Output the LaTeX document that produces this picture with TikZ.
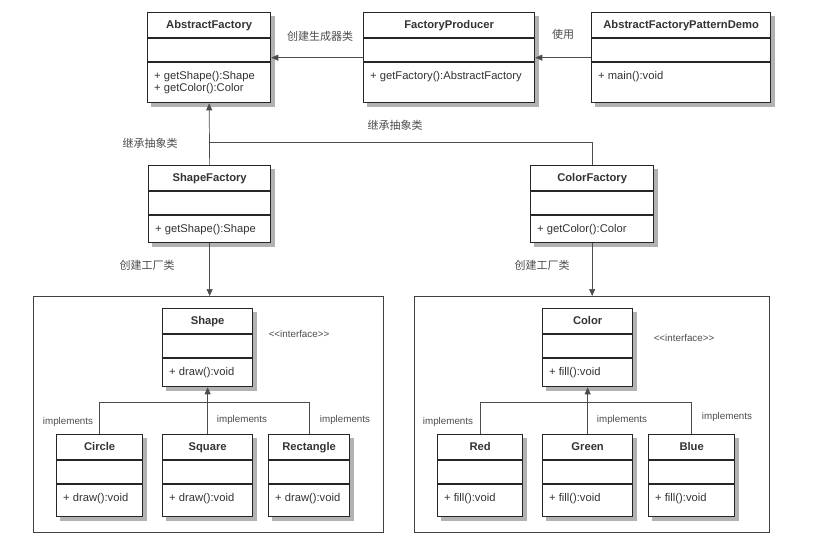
\documentclass[tikz,border=0pt]{standalone}
\usepackage{fontspec}
\setmainfont{Liberation Sans}
\newfontfamily\cjk{Noto Sans CJK SC}
\usetikzlibrary{arrows.meta}
\pgfdeclarelayer{paper}
\pgfdeclarelayer{shade}
\pgfsetlayers{paper,shade,main}

\tikzset{
  umlbox/.style={draw=black!85,line width=1.3pt,fill=white,inner sep=0pt,anchor=north west},
  umlshadow/.style={fill=black!30,draw=none},
  umlrule/.style={draw=black!85,line width=1.3pt},
  umlname/.style={font=\fontsize{11.2}{13}\selectfont\bfseries,text=black!80,inner sep=0pt,
    text height=8pt,text depth=2.5pt},
  umlops/.style={font=\fontsize{11.2}{13}\selectfont,text=black!80,anchor=west,inner sep=0pt,
    text height=8pt,text depth=2.5pt},
  pkgbox/.style={draw=black!75,line width=0.8pt,anchor=north west,inner sep=0pt},
  conn/.style={draw=black!70,line width=0.7pt},
  arr/.style={conn,-{Triangle[length=7pt,width=6pt]}},
  cnlabel/.style={font=\cjk\fontsize{11}{13}\selectfont,text=black!70,inner sep=0pt},
  impl/.style={font=\fontsize{9.8}{11}\selectfont,text=black!70,inner sep=0pt},
}

% name, top left, width, height, title, operations
\newcommand{\umlclass}[6]{%
  \node[umlbox,minimum width=#3pt,minimum height=#4pt] (#1) at (#2) {};
  \begin{pgfonlayer}{shade}
    \fill[umlshadow] ([shift={(4pt,-4pt)}]#1.north west) rectangle ([shift={(4pt,-4pt)}]#1.south east);
  \end{pgfonlayer}
  \draw[umlrule] ([yshift=-26pt]#1.north west) -- ([yshift=-26pt]#1.north east);
  \draw[umlrule] ([yshift=-50pt]#1.north west) -- ([yshift=-50pt]#1.north east);
  \node[umlname] (#1-name) at ([yshift=-13.5pt]#1.north) {#5};
  \foreach \op [count=\i] in {#6}{
    \node[umlops] (#1-op\i) at ([xshift=7pt,yshift={-64.5pt-12pt*(\i-1)}]#1.north west) {\op};
  }
}
\newcommand{\stereo}{\textless\kern0pt\textless interface\textgreater\kern0pt\textgreater}

\begin{document}
\begin{tikzpicture}[x=1pt,y=-1pt]
  \begin{pgfonlayer}{paper}
    \fill[white] (0,0) rectangle (829,550);
  \end{pgfonlayer}
  \useasboundingbox (0,0) rectangle (829,550);

  \node[pkgbox,minimum width=350pt,minimum height=236pt] (shapepkg) at (33,296) {};
  \node[pkgbox,minimum width=355pt,minimum height=236pt] (colorpkg) at (414,296) {};

  \umlclass{af}{147,12}{123}{90}{AbstractFactory}{+ getShape():Shape,+ getColor():Color}
  \umlclass{fp}{363,12}{171}{90}{FactoryProducer}{+ getFactory():AbstractFactory}
  \umlclass{demo}{591,12}{179}{90}{AbstractFactoryPatternDemo}{+ main():void}
  \umlclass{sf}{148,165}{122}{77}{ShapeFactory}{+ getShape():Shape}
  \umlclass{cf}{530,165}{123}{77}{ColorFactory}{+ getColor():Color}

  \umlclass{shape}{162,308}{90}{78}{Shape}{+ draw():void}
  \umlclass{circle}{56,434}{86}{82}{Circle}{+ draw():void}
  \umlclass{square}{162,434}{90}{82}{Square}{+ draw():void}
  \umlclass{rect}{268,434}{81}{82}{Rectangle}{+ draw():void}

  \umlclass{color}{542,308}{90}{78}{Color}{+ fill():void}
  \umlclass{red}{437,434}{85}{82}{Red}{+ fill():void}
  \umlclass{green}{542,434}{90}{82}{Green}{+ fill():void}
  \umlclass{blue}{648,434}{86}{82}{Blue}{+ fill():void}

  \draw[arr] (fp.west) -- (af.east);
  \draw[arr] (demo.west) -- (fp.east);
  \draw[arr] (sf.north) -- (af.south);
  \coordinate (inh) at (sf.north |- 0,142);
  \draw[conn] (cf.north) |- (inh);
  \draw[arr] (sf.south) -- (sf.south |- shapepkg.north);
  \draw[arr] (cf.south) -- (cf.south |- colorpkg.north);

  \draw[arr] (square.north) -- (shape.south);
  \coordinate (shapebar) at (square.north |- 0,402);
  \draw[conn] (circle.north) |- (shapebar) -| (rect.north);
  \draw[arr] (green.north) -- (color.south);
  \coordinate (colorbar) at (green.north |- 0,402);
  \draw[conn] (red.north) |- (colorbar) -| (blue.north);

  \node[cnlabel] (l-create) at (320,36) {创建生成器类};
  \node[cnlabel] (l-use) at (563,34) {使用};
  \node[cnlabel] (l-inh1) at (150,143) {继承抽象类};
  \node[cnlabel] (l-inh2) at (395,125) {继承抽象类};
  \node[cnlabel] (l-fac1) at (147,265) {创建工厂类};
  \node[cnlabel] (l-fac2) at (542,265) {创建工厂类};

  \node[impl] (if1) at (299,334) {\stereo};
  \node[impl] (if2) at (684,338) {\stereo};
  \foreach \x/\y [count=\i] in {68/422,242/420,345/420,448/422,622/420,727/417}{
    \node[impl] (impl\i) at (\x,\y) {implements};
  }
\end{tikzpicture}
\end{document}
